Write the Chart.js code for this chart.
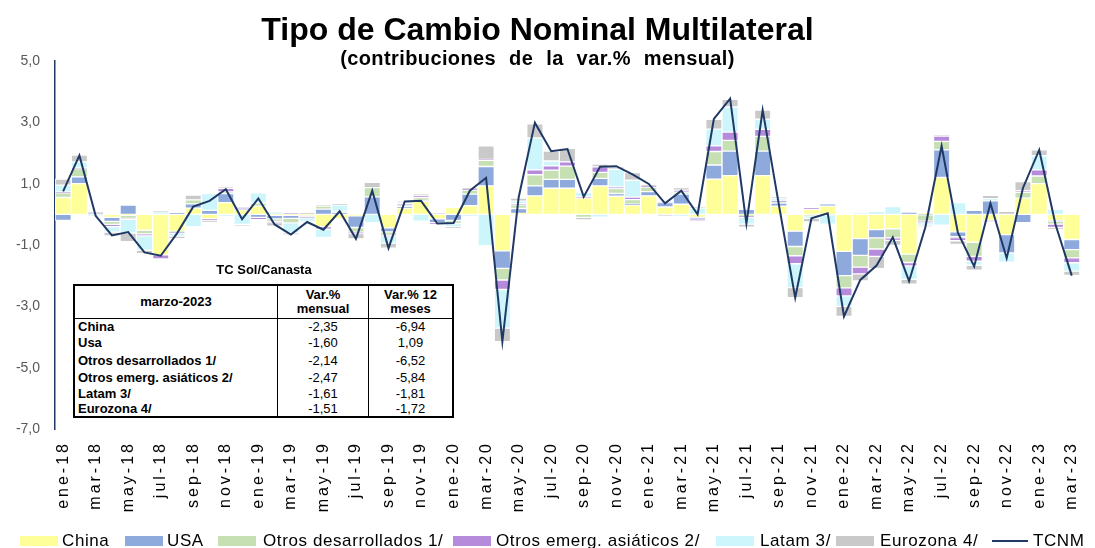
<!DOCTYPE html>
<html>
<head>
<meta charset="utf-8">
<script src="https://cdn.jsdelivr.net/npm/chart.js@4.4.0/dist/chart.umd.min.js"></script>
<style>
  body { margin: 0; background: #fff; }
  #wrap { position: relative; width: 1095px; height: 548px; overflow: hidden; font-family: 'Liberation Sans', Arial, sans-serif; }
  #chart { position: absolute; left: 0; top: 0; }
  .title { position: absolute; left: 0; width: 1075px; text-align: center; font-weight: bold; color: #000; white-space: nowrap; }
  #t1 { top: 11px; font-family: 'Liberation Sans Narrow', 'Liberation Sans', sans-serif; font-size: 32px; }
  #t2 { top: 47px; font-size: 20px; letter-spacing: 0.4px; word-spacing: 7px; }
  #tblTitle { position: absolute; left: 73px; width: 382px; top: 262px; text-align: center; font-weight: bold; font-size: 13px; }
  #tbl { position: absolute; left: 73px; top: 284px; border-collapse: collapse; background: #fff; font-size: 13px; border: 2px solid #000; }
  #tbl td { padding: 0 3px; line-height: 14px; }
  #tbl .hd td { height: 32px; border-bottom: 1.5px solid #000; font-weight: bold; text-align: center; }
  #tbl td.c1 { width: 196px; border-right: 1.5px solid #000; }
  #tbl td.c2 { width: 84px; border-right: 1.5px solid #000; text-align: center; }
  #tbl td.c3 { width: 77px; text-align: center; }
  #tbl td.nm { font-weight: bold; text-align: left; }
  .lg { position: absolute; top: 532px; height: 18px; font-size: 17px; line-height: 18px; color: #000; white-space: nowrap; letter-spacing: 0.6px; }
  .lg span.box { position: absolute; top: 4px; height: 10px; }
</style>
</head>
<body>
<div id="wrap">
  <canvas id="chart" width="1095" height="548"></canvas>
  <div class="title" id="t1">Tipo de Cambio Nominal Multilateral</div>
  <div class="title" id="t2">(contribuciones de la var.% mensual)</div>
  <div id="tblTitle">TC Sol/Canasta</div>
  <table id="tbl"></table>
  <div id="legend"></div>
</div>
<script>
// months ene-18 .. mar-23
const monthNames = ['ene', 'feb', 'mar', 'abr', 'may', 'jun', 'jul', 'ago', 'sep', 'oct', 'nov', 'dic'];
const categories = [];
for (let y = 18; y <= 23; y++) {
    for (let m = 0; m < 12; m++) {
        if (y === 23 && m > 2) break;
        categories.push(monthNames[m] + '-' + y);
    }
}

const china = [0.55, 1.0, 0, -0.1, -0.03, -0.52, -1.32, -0.55, 0.2, -0.15, 0.38, 0.15,
    0.27, -0.03, -0.03, -0.03, -0.4, -0.15, -0.05, 0, -0.44, 0.2, 0.42, -0.15,
    0.22, 0.28, 0.93, -1.19, 0.03, 0.6, 0.85, 0.85, 0.53, 0.93, 0.59, 0.3,
    0.6, 0.24, 0.33, -0.1, 1.15, 1.26, -0.02, 1.26, 0.27, -0.55, 0.16, 0.27,
    -1.21, -0.79, -0.5, -0.47, -1.3, 0.03, 1.2, -0.57, -0.91, -0.2, -0.66, 0.53,
    1.0, -0.2, -0.82];
const usa = [-0.2, 0.22, 0, -0.13, 0.3, 0, 0, 0.05, 0.14, 0.13, 0.3, 0.03,
    -0.1, -0.12, -0.1, 0, 0.17, 0.05, -0.38, 0.57, -0.13, 0.05, 0.03, -0.12,
    -0.2, 0.38, 0.63, -0.57, 0.16, 0.33, 0.29, 0.29, 0, 0.24, 0.09, 0.03,
    0.14, 0.14, 0.33, -0.05, 0.46, 0.8, 0.16, 0.8, 0.1, -0.5, 0, 0.07,
    -0.79, -0.55, -0.27, 0, 0.07, -0.02, 0.9, -0.16, 0.13, 0.44, -0.6, -0.27,
    0, -0.03, -0.33];
const otrosDes = [0.15, 0.27, 0.02, -0.1, -0.1, -0.12, 0, -0.03, 0.13, 0, 0.05, 0,
    0.1, -0.08, -0.15, -0.05, 0.1, 0.05, -0.15, 0.3, -0.12, 0.05, 0.1, 0,
    -0.1, 0.13, 0.2, -0.38, 0.12, 0.36, 0.3, 0.43, -0.1, 0.2, 0.16, 0.15,
    0.15, 0, 0.06, 0, 0.44, 0.35, -0.03, 0.48, 0.03, -0.3, -0.05, -0.02,
    -0.4, -0.38, -0.36, -0.3, -0.27, -0.2, 0.28, -0.03, -0.46, 0, 0, 0.19,
    0.25, -0.09, -0.27];
const otrosAsia = [0.03, 0.02, 0.03, -0.07, -0.03, -0.06, -0.13, -0.03, 0, -0.04, 0.12, 0.05,
    -0.07, -0.04, 0.04, -0.03, -0.08, 0, -0.05, 0, -0.03, 0.06, 0.05, -0.05,
    0, 0.03, 0.03, -0.31, 0.04, 0.16, 0.14, 0.14, 0.04, 0.18, 0.05, 0.08,
    0.03, 0.03, 0.07, -0.06, 0.18, 0.27, -0.05, 0.23, 0.03, -0.26, 0.05, 0,
    -0.26, -0.22, -0.24, -0.08, -0.11, -0.05, 0.17, -0.1, -0.16, -0.03, 0, 0.05,
    0.2, -0.11, -0.16];
const latam = [0.22, 0.2, -0.05, -0.18, -0.45, -0.47, 0.08, -0.1, -0.4, 0.55, -0.07, -0.33,
    0.33, 0.08, -0.33, -0.12, -0.27, 0.2, 0, -0.27, -0.22, 0.02, -0.22, 0,
    -0.1, -0.07, -1.02, -1.26, 0.08, 1.04, 0.16, 0, 0.14, -0.09, 0.58, 0.55,
    0, 0, -0.07, 0.2, 0.55, 0.82, -0.22, 0.33, 0.08, -0.78, -0.08, -0.3,
    -0.34, 0.04, 0.1, 0.25, -0.44, -0.08, -0.35, 0.38, -0.13, 0.07, -0.3, 0,
    0.46, 0.16, -0.27];
const eurozona = [0.2, 0.22, 0.03, -0.12, -0.28, -0.11, 0.03, -0.08, 0.16, -0.07, 0.05, -0.05,
    0, -0.12, -0.05, 0.05, 0.05, 0.05, -0.17, 0.17, -0.16, 0.04, 0.07, 0.04,
    -0.07, 0.05, 0.44, -0.44, 0.1, 0.46, 0.32, 0.44, -0.08, 0.09, 0.08, 0.25,
    0.05, -0.05, 0.08, 0.03, 0.32, 0.25, -0.1, 0.3, 0.05, -0.33, -0.12, 0,
    -0.33, -0.23, -0.4, -0.16, -0.16, -0.06, 0.04, -0.12, -0.16, 0.11, 0.1, 0.3,
    0.19, -0.06, -0.14];
const tcnm = [0.75, 1.92, -0.05, -0.69, -0.58, -1.24, -1.35, -0.62, 0.25, 0.44, 0.82, -0.16,
    0.52, -0.33, -0.66, -0.25, -0.5, 0.1, -0.8, 0.77, -1.1, 0.42, 0.44, -0.3,
    -0.28, 0.77, 1.19, -4.15, 0.55, 2.99, 2.06, 2.13, 0.57, 1.55, 1.57, 1.3,
    0.99, 0.36, 0.77, 0.0, 3.11, 3.77, -0.3, 3.4, 0.3, -2.72, -0.13, 0.03,
    -3.33, -2.14, -1.67, -0.75, -2.18, -0.42, 2.23, -0.6, -1.7, 0.36, -1.43, 0.86,
    2.1, -0.33, -2.0];

const seriesNames = ['China', 'USA', 'Otros desarrollados 1/', 'Otros emerg. asiáticos 2/', 'Latam 3/', 'Eurozona 4/'];
const seriesColors = ['#FFFF99', '#8EA9DB', '#C6E0B4', '#B68BDB', '#CCF5FC', '#C9C9C9'];
const lineName = 'TCNM';
const lineColor = '#1F3864';

// table inset
const tableHeader = ['marzo-2023', 'Var.%<br>mensual', 'Var.% 12<br>meses'];
const tableNames = ['China', 'Usa', 'Otros desarrollados 1/', 'Otros emerg. asiáticos 2/', 'Latam 3/', 'Eurozona 4/'];
const tableMensual = ['-2,35', '-1,60', '-2,14', '-2,47', '-1,61', '-1,51'];
const table12m = ['-6,94', '1,09', '-6,52', '-5,84', '-1,81', '-1,72'];
const tableRowHeights = [16, 17, 18, 16, 16, 15];

const tbl = document.getElementById('tbl');
let html = '<tr class="hd"><td class="c1">' + tableHeader[0] + '</td><td class="c2">' + tableHeader[1] +
    '</td><td class="c3">' + tableHeader[2] + '</td></tr>';
tableNames.forEach((n, i) => {
    html += '<tr style="height:' + tableRowHeights[i] + 'px"><td class="c1 nm">' + n + '</td><td class="c2">' +
        tableMensual[i] + '</td><td class="c3">' + table12m[i] + '</td></tr>';
});
tbl.innerHTML = html;

// legend
const legendBoxX = [20, 125, 218, 453, 716, 836];
const legendTextX = [62, 167, 263, 496, 760, 880];
const legend = document.getElementById('legend');
seriesNames.forEach((n, i) => {
    const d = document.createElement('div');
    d.className = 'lg';
    d.style.left = legendBoxX[i] + 'px';
    d.innerHTML = '<span class="box" style="left:0;width:38px;background:' + seriesColors[i] + '"></span>' +
        '<span style="position:absolute;left:' + (legendTextX[i] - legendBoxX[i]) + 'px">' + n + '</span>';
    legend.appendChild(d);
});
const ld = document.createElement('div');
ld.className = 'lg';
ld.style.left = '992px';
ld.innerHTML = '<span class="box" style="left:0;width:36px;top:8px;height:2px;background:' + lineColor + '"></span>' +
    '<span style="position:absolute;left:41px">' + lineName + '</span>';
legend.appendChild(ld);

const barData = [china, usa, otrosDes, otrosAsia, latam, eurozona];
const datasets = barData.map((d, i) => ({
    type: 'bar',
    label: seriesNames[i],
    data: d,
    backgroundColor: seriesColors[i],
    borderColor: '#ffffff',
    borderWidth: 1,
    borderSkipped: false,
    stack: 'contrib',
    barPercentage: 1,
    categoryPercentage: 1
}));
datasets.push({
    type: 'line',
    label: lineName,
    data: tcnm,
    borderColor: lineColor,
    borderWidth: 2,
    pointRadius: 0,
    tension: 0,
    fill: false,
    stack: 'tcnm',
    order: -1
});

const ctx = document.getElementById('chart').getContext('2d');
const chart = new Chart(ctx, {
    type: 'bar',
    data: { labels: categories, datasets: datasets },
    options: {
        responsive: false,
        animation: false,
        layout: { padding: { top: 61, left: 0, right: 5, bottom: 23 } },
        plugins: { legend: { display: false }, tooltip: { enabled: false } },
        scales: {
            x: {
                stacked: true,
                grid: { display: false },
                border: { display: false },
                ticks: {
                    autoSkip: false,
                    maxRotation: 90,
                    minRotation: 90,
                    padding: 4,
                    color: '#000',
                    font: { family: 'Liberation Sans', size: 16 },
                    callback: function (v, i) {
                        return i % 2 === 0 ? categories[i] : '';
                    }
                },
                afterFit: function (s) { s.height = 96; }
            },
            y: {
                stacked: true,
                min: -7,
                max: 5,
                ticks: {
                    stepSize: 2,
                    padding: 15,
                    color: '#595959',
                    font: { family: 'Liberation Sans', size: 14 },
                    callback: function (v) { return v.toFixed(1).replace('.', ','); }
                },
                grid: {
                    drawTicks: false,
                    lineWidth: 2,
                    color: function (c) {
                        return c.tick && c.tick.value === 0 ? '#D9D9D9' : 'rgba(0,0,0,0)';
                    }
                },
                border: { color: lineColor, width: 1.5 },
                afterFit: function (s) { s.width = 55; }
            }
        }
    }
});

// stretched month labels like the original
const xs = chart.scales.x;
const origDrawLabels = xs.drawLabels.bind(xs);
xs.drawLabels = function (area) {
    const c = this.ctx;
    c.save();
    c.letterSpacing = '3px';
    origDrawLabels(area);
    c.restore();
};
chart.draw();
</script>
</body>
</html>
